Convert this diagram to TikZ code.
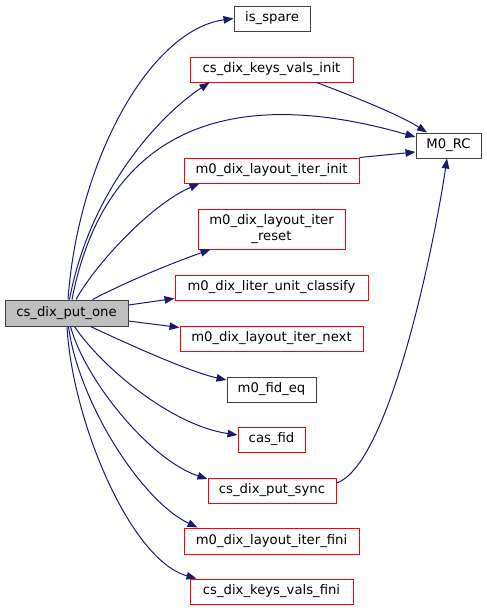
\documentclass[tikz,border=0pt]{standalone}
\usepackage{fontspec}
\setmainfont{DejaVu Sans}
\usetikzlibrary{arrows.meta}
\definecolor{edgeblue}{HTML}{191970}
\definecolor{boxred}{HTML}{FF0000}
\definecolor{boxgray}{HTML}{404040}
\definecolor{rootfill}{HTML}{BFBFBF}
\tikzset{
  fn/.style={draw=boxred, line width=1pt, inner sep=0pt, align=center,
    font=\fontsize{13.2}{15.5}\selectfont, anchor=center},
  plain/.style={fn, draw=boxgray},
  root/.style={fn, draw=boxgray, fill=rootfill},
  edge/.style={draw=edgeblue, line width=1pt,
    -{Triangle[length=10pt,width=7.5pt]}, fill=none},
}
\begin{document}
\begin{tikzpicture}[x=1pt,y=-1pt]
\useasboundingbox (0,0) rectangle (487,611);
\node[root,  minimum width=123pt, minimum height=26pt] (put) at (66.5,313) {cs\_dix\_put\_one};
\node[plain, minimum width=76pt,  minimum height=25pt] (spare) at (272,18.5) {is\_spare};
\node[fn,    minimum width=163pt, minimum height=25pt] (kvi) at (271.5,69.5) {cs\_dix\_keys\_vals\_init};
\node[plain, minimum width=65pt,  minimum height=25pt] (rc) at (448.5,145.5) {M0\_RC};
\node[fn,    minimum width=175pt, minimum height=25pt] (ii) at (271.5,170.5) {m0\_dix\_layout\_iter\_init};
\node[fn,    minimum width=147pt, minimum height=40pt] (reset) at (271.5,229) {m0\_dix\_layout\_iter\\\_reset};
\node[fn,    minimum width=193pt, minimum height=25pt] (cl) at (271.5,287.5) {m0\_dix\_liter\_unit\_classify};
\node[fn,    minimum width=183pt, minimum height=25pt] (next) at (271.5,338.5) {m0\_dix\_layout\_iter\_next};
\node[plain, minimum width=89pt,  minimum height=25pt] (fideq) at (271.5,389.5) {m0\_fid\_eq};
\node[fn,    minimum width=67pt,  minimum height=25pt] (cas) at (271.5,439.5) {cas\_fid};
\node[fn,    minimum width=128pt, minimum height=25pt] (sync) at (272,490.5) {cs\_dix\_put\_sync};
\node[fn,    minimum width=175pt, minimum height=26pt] (fini) at (271.5,541) {m0\_dix\_layout\_iter\_fini};
\node[fn,    minimum width=163pt, minimum height=25pt] (kvf) at (271.5,591.5) {cs\_dix\_keys\_vals\_fini};

\draw[edge] ([xshift=1.5pt]put.north) .. controls (78,160) and (150,30) .. ([yshift=0pt]spare.west);
\draw[edge] ([xshift=3pt]put.north) .. controls (90,190) and (160,115) .. ([xshift=20pt]kvi.south west);
\draw[edge] ([xshift=5.5pt]put.north) .. controls (100,155) and (200,75) .. ([yshift=8.5pt]rc.west);
\draw[edge] ([xshift=9.5pt]put.north) .. controls (95,265) and (150,205) .. ([xshift=16pt]ii.south west);
\draw[edge] ([xshift=26pt]put.north) .. controls (130,280) and (175,262) .. ([xshift=13pt]reset.south west);
\draw[edge] ([yshift=8pt]put.east) -- ([yshift=-11pt]cl.west);
\draw[edge] ([yshift=-8pt]put.east) -- ([yshift=11pt]next.west);
\draw[edge] ([xshift=24pt]put.south) .. controls (130,345) and (190,372) .. ([yshift=9.5pt]fideq.west);
\draw[edge] ([xshift=8pt]put.south) .. controls (100,365) and (170,425) .. ([yshift=4.5pt]cas.west);
\draw[edge] ([xshift=4pt]put.south) .. controls (85,380) and (150,460) .. ([yshift=11.5pt]sync.west);
\draw[edge] ([xshift=2pt]put.south) .. controls (78,400) and (140,500) .. ([xshift=14pt]fini.north west);
\draw[edge] ([xshift=0.5pt]put.south) .. controls (72,420) and (130,560) .. ([xshift=7pt]kvf.north west);
\draw[edge] ([xshift=-37pt]kvi.south east) .. controls (350,95) and (400,115) .. ([xshift=-21.5pt]rc.north);
\draw[edge] (ii.north east) -- ([yshift=-6.5pt]rc.west);
\draw[edge] ([yshift=7.5pt]sync.east) .. controls (390,465) and (435,240) .. ([xshift=-1.5pt]rc.south);
\end{tikzpicture}
\end{document}
